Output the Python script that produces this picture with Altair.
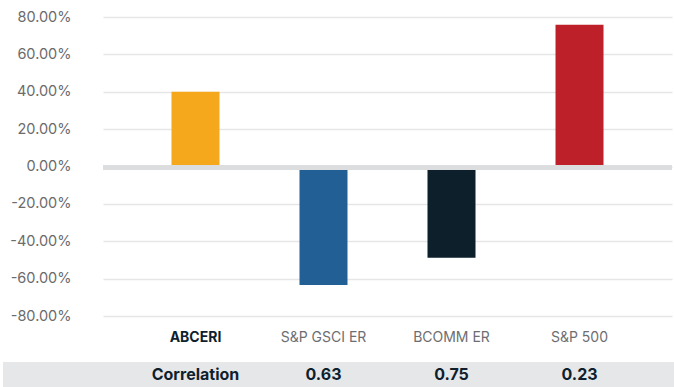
import altair as alt
import pandas as pd

names = ["ABCERI", "S&P GSCI ER", "BCOMM ER", "S&P 500"]
returns = [0.40, -0.634, -0.488, 0.759]
correlation = ["Correlation", "0.63", "0.75", "0.23"]
colors = ["#f5a81c", "#215f95", "#0d1f2b", "#be202a"]
y_ticks = [-0.8, -0.6, -0.4, -0.2, 0.0, 0.2, 0.4, 0.6, 0.8]

df = pd.DataFrame({"name": names, "ret": returns, "corr": correlation, "color": colors})
df_first = df.iloc[:1]
df_rest = df.iloc[1:]

FONT = "Inter"
xscale = alt.Scale(domain=names, paddingInner=0.625, paddingOuter=0.535)
yscale = alt.Scale(domain=[-0.8, 0.8], nice=False, zero=False)
xenc = alt.X("name:N", scale=xscale, sort=names, axis=None)
yaxis = alt.Axis(values=y_ticks, title=None, domain=False, ticks=False,
                 labelExpr="replace(format(datum.value, '.2%'), '\u2212', '-')",
                 labelFont=FONT, labelFontSize=14.5, labelColor="#6b6b6b",
                 labelOverlap=False, labelBound=False, labelFlush=False,
                 labelPadding=32, grid=True, gridColor="#e6e6e6", gridWidth=1.5)

bars = alt.Chart(df).mark_bar().encode(
    x=xenc,
    y=alt.Y("ret:Q", scale=yscale, axis=yaxis),
    y2=alt.datum(0),
    color=alt.Color("color:N", scale=None),
)

zero = alt.Chart(pd.DataFrame({"z": [0.0]})).mark_rule(
    color="#dcdddf", strokeWidth=5, yOffset=1
).encode(y=alt.Y("z:Q", scale=yscale, axis=yaxis))

band = alt.Chart(pd.DataFrame({"z": [0]})).mark_rect(color="#e6e7e9").encode(
    x=alt.value(-100), x2=alt.value(571), y=alt.value(345), y2=alt.value(372)
)

header_first = alt.Chart(df_first).mark_text(
    font=FONT, fontSize=14, fontWeight="bold", baseline="middle", align="center", color="#0f1f2e"
).encode(x=xenc, y=alt.value(321), text="name:N")

header_rest = alt.Chart(df_rest).mark_text(
    font=FONT, fontSize=14, baseline="middle", align="center", color="#6d6e71"
).encode(x=xenc, y=alt.value(321), text="name:N")

corr = alt.Chart(df).mark_text(
    font=FONT, fontSize=16, fontWeight="bold", baseline="middle", align="center", color="#0f1f2e"
).encode(x=xenc, y=alt.value(358), text="corr:N")

chart = alt.layer(bars, band, zero, header_first, header_rest, corr).properties(
    width=569, height=299,
    autosize=alt.AutoSizeParams(type="none"),
    padding={"left": 103, "top": 17, "right": 2, "bottom": 71},
).configure_view(stroke=None, clip=False)

chart.save("out.html", embed_options={"renderer": "svg", "actions": False})
